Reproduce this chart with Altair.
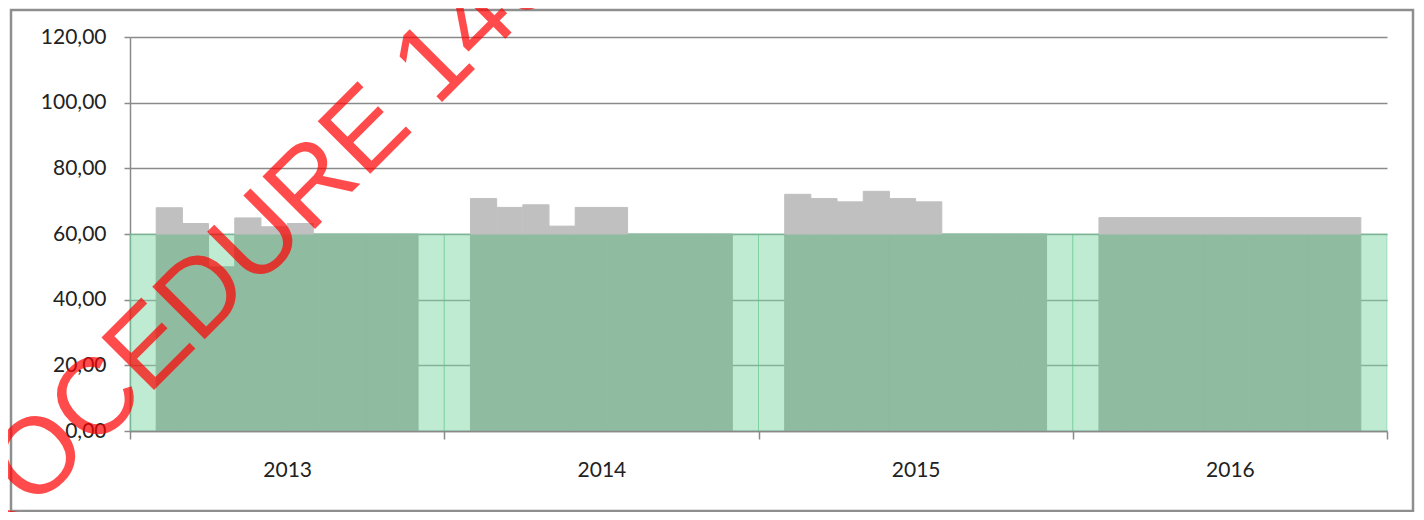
import altair as alt
import pandas as pd

# ---------------- data ----------------
years = ["2013", "2014", "2015", "2016"]
month_names = ["Jan", "Feb", "Mar", "Apr", "May", "Jun",
               "Jul", "Aug", "Sep", "Oct", "Nov", "Dec"]
values_2013 = [None, 68.0, 63.2, 50.0, 64.9, 62.2, 63.2, 60.0, 60.0, 60.0, 60.0, None]
values_2014 = [None, 70.8, 68.1, 68.9, 62.4, 68.1, 68.1, 60.0, 60.0, 60.0, 60.0, None]
values_2015 = [None, 72.1, 70.8, 69.8, 73.0, 70.8, 69.8, 60.0, 60.0, 60.0, 60.0, None]
values_2016 = [None, 65.0, 65.0, 65.0, 65.0, 65.0, 65.0, 65.0, 65.0, 65.0, 65.0, None]
limit = 60.0
y_ticks = [0, 20, 40, 60, 80, 100, 120]
watermark = "PROCEDURE 1400"

series = [values_2013, values_2014, values_2015, values_2016]

rows = []
for yi, (yr, vals) in enumerate(zip(years, series)):
    for mi, v in enumerate(vals):
        if v is None:
            continue
        idx = yi * 12 + mi
        rows.append(dict(year=yr, month=month_names[mi], m0=idx, m1=idx + 1,
                         value=v, lo=0.0, base=min(v, limit), lim=limit))
month_df = pd.DataFrame(rows)
excess_df = month_df[month_df["value"] > limit]

year_df = pd.DataFrame([dict(year=yr, s=yi * 12, e=yi * 12 + 12, lo=0.0, hi=limit)
                        for yi, yr in enumerate(years)])

W, H = 1257, 394
n_months = 12 * len(years)

x_scale = alt.Scale(domain=[0, n_months], nice=False, zero=False)
y_scale = alt.Scale(domain=[0, 120], nice=False)

label_arr = "[" + ",".join("'%s'" % y for y in years) + ",'']"
FONT = "Lato"
AX = "#8a8a8a"

x_axis = alt.Axis(values=[i * 12 for i in range(len(years) + 1)],
                  labelExpr=label_arr + "[round(datum.value/12)]",
                  labelOffset=W / (2 * len(years)), labelFlush=False, labelOverlap=False,
                  tickSize=8, tickColor=AX, tickWidth=1.5, domainColor=AX, domainWidth=1.5,
                  grid=False, title=None, labelFont=FONT, labelFontSize=21,
                  labelColor="#222222", labelPadding=20, zindex=1)
y_axis = alt.Axis(values=y_ticks,
                  labelExpr="replace(format(datum.value, '.2f'), '.', ',')",
                  tickSize=6, tickColor=AX, tickWidth=1.5, domainColor=AX, domainWidth=1.5,
                  grid=True, gridColor=AX, gridWidth=1.5, title=None,
                  labelFont=FONT, labelFontSize=21, labelColor="#222222", labelPadding=18)

frame = alt.Chart(pd.DataFrame({"k": [0]})).mark_rect(
    filled=False, stroke="#8e8e8e", strokeWidth=2.5
).encode(x=alt.value(-119), x2=alt.value(1283), y=alt.value(-27), y2=alt.value(474))

light = alt.Chart(year_df).mark_rect(
    fill="#7FD7A7", fillOpacity=0.5, stroke="#5fc48a", strokeWidth=1, strokeOpacity=0.45
).encode(
    x=alt.X("s:Q", scale=x_scale, axis=x_axis), x2="e:Q",
    y=alt.Y("lo:Q", scale=y_scale, axis=y_axis), y2="hi:Q",
)

dark = alt.Chart(month_df).mark_rect(
    fill="#8FBBA0", stroke="#8FBBA0", strokeWidth=1.0
).encode(
    x=alt.X("m0:Q", scale=x_scale, axis=x_axis), x2="m1:Q",
    y=alt.Y("lo:Q", scale=y_scale, axis=y_axis), y2="base:Q",
)

gray = alt.Chart(excess_df).mark_rect(
    fill="#C0C0C0", stroke="#C0C0C0", strokeWidth=1.0
).encode(
    x=alt.X("m0:Q", scale=x_scale, axis=x_axis), x2="m1:Q",
    y=alt.Y("lim:Q", scale=y_scale, axis=y_axis), y2="value:Q",
)

wm = alt.Chart(pd.DataFrame({"t": [watermark]})).mark_text(
    font="Liberation Sans", fontSize=108, color="#FF0000", opacity=0.7,
    angle=315, align="left", baseline="alphabetic"
).encode(text="t:N", x=alt.value(-203), y=alt.value(580))

chart = alt.layer(frame, light, dark, gray, wm).properties(
    width=W, height=H,
    autosize=alt.AutoSizeParams(type="none"),
    padding={"left": 122, "top": 29, "right": 29, "bottom": 81},
    background="white",
).configure_view(stroke=None)

chart.save("out.html", embed_options={"renderer": "svg", "actions": False})
